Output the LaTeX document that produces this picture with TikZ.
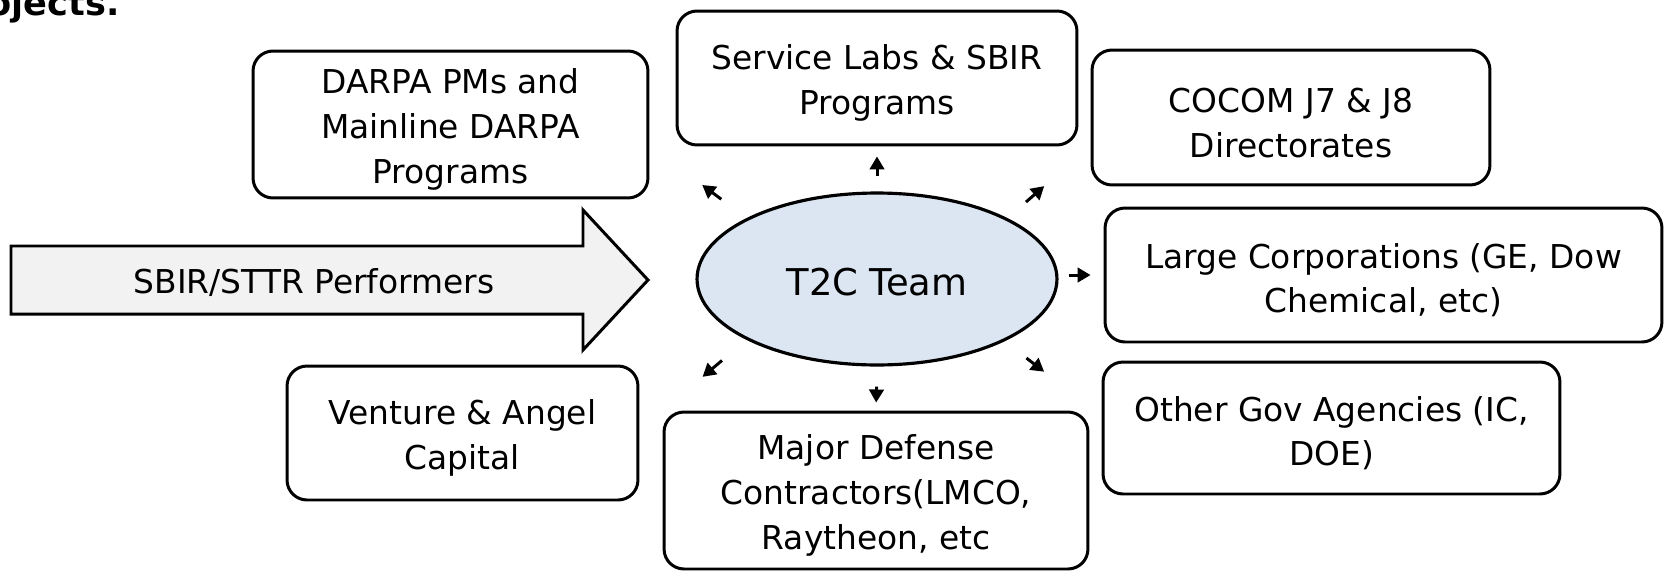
\documentclass[tikz,border=0pt]{standalone}
\usepackage{fontspec}
\setmainfont{DejaVu Sans}
\usepackage{xcolor}
\usetikzlibrary{arrows.meta,positioning,shapes,calc}
\definecolor{ink}{HTML}{000000}
\definecolor{hubfill}{HTML}{DCE6F2}
\definecolor{arrowfill}{HTML}{F2F2F2}
\newcommand{\lift}{\rule{0pt}{19.9pt}}
\tikzset{
  orgbox/.style={draw=ink,fill=white,line width=1.7pt,rounded corners=0.4cm,
                 align=center,font=\fontsize{18.7}{25.4}\selectfont,inner sep=2pt},
  hub/.style={ellipse,draw=ink,fill=hubfill,line width=1.8pt,
              minimum width=7.2cm,minimum height=3.44cm,inner sep=0pt,
              font=\fontsize{21}{25}\selectfont,
              execute at begin node={\rule{0pt}{18.7pt}}},
  bigarrow/.style={draw=ink,fill=arrowfill,line width=1.7pt,miter limit=20},
  outarr/.style={-{Triangle[length=2.6mm,width=2.9mm]},line width=1.7pt,draw=ink}
}

\begin{document}
\begin{tikzpicture}[x=0.02cm,y=-0.02cm]
  \useasboundingbox (0,0) rectangle (1667,572);

  % clipped heading from the slide above
  \node[anchor=base east,inner sep=0pt,font=\fontsize{20}{24}\selectfont\bfseries] (head) at (120,15) {projects.};

  % performers feeding in
  \draw[bigarrow] (11,246) -- (583,246) -- (583,210) -- (648,280)
                  -- (583,350) -- (583,314) -- (11,314) -- cycle;
  \node[font=\fontsize{18.7}{25}\selectfont] (sbir) at (314,283) {SBIR/STTR Performers};

  % central team
  \node[hub] (t2c) at (877,279) {T2C Team};

  % partner boxes round the team
  \node[orgbox,minimum width=7.9cm,minimum height=2.94cm] (darpa) at (450.5,124.5) {\lift DARPA PMs and\\Mainline DARPA\\Programs};
  \node[orgbox,minimum width=8.0cm,minimum height=2.68cm] (labs) at (877,78) {\lift Service Labs \& SBIR\\Programs};
  \node[orgbox,minimum width=7.96cm,minimum height=2.7cm] (cocom) at (1291,117.5) {\lift COCOM J7 \& J8\\Directorates};
  \node[orgbox,minimum width=11.14cm,minimum height=2.68cm] (corp) at (1383.5,275) {\lift Large Corporations (GE, Dow\\Chemical, etc)};
  \node[orgbox,minimum width=9.14cm,minimum height=2.64cm] (gov) at (1331.5,428) {\lift Other Gov Agencies (IC,\\DOE)};
  \node[orgbox,minimum width=8.48cm,minimum height=3.14cm] (mdc) at (876,490.5) {\lift Major Defense\\Contractors(LMCO,\\Raytheon, etc};
  \node[orgbox,minimum width=7.02cm,minimum height=2.68cm] (vc) at (462.5,433) {\lift Venture \& Angel\\Capital};

  % short arrows going out from the team
  \draw[outarr,shorten <=0.3cm,shorten >=0.2cm] (t2c.north) -- (labs.south);
  \draw[outarr,shorten <=0.4cm,shorten >=0.16cm] (t2c.south) -- (mdc.north);
  \draw[outarr,shorten <=0.2cm,shorten >=0.26cm] (t2c.east |- corp.west) -- (corp.west);
  \draw[outarr,shorten <=0.63cm,shorten >=1.32cm] (t2c.155) -- (darpa.-6);
  \draw[outarr,shorten <=0.49cm,shorten >=1.23cm] (t2c.25) -- (cocom.188);
  \draw[outarr,shorten <=0.64cm,shorten >=1.65cm] (t2c.205) -- (vc.1);
  \draw[outarr,shorten <=0.55cm,shorten >=1.45cm] (t2c.-26) -- (gov.177);
\end{tikzpicture}
\end{document}
